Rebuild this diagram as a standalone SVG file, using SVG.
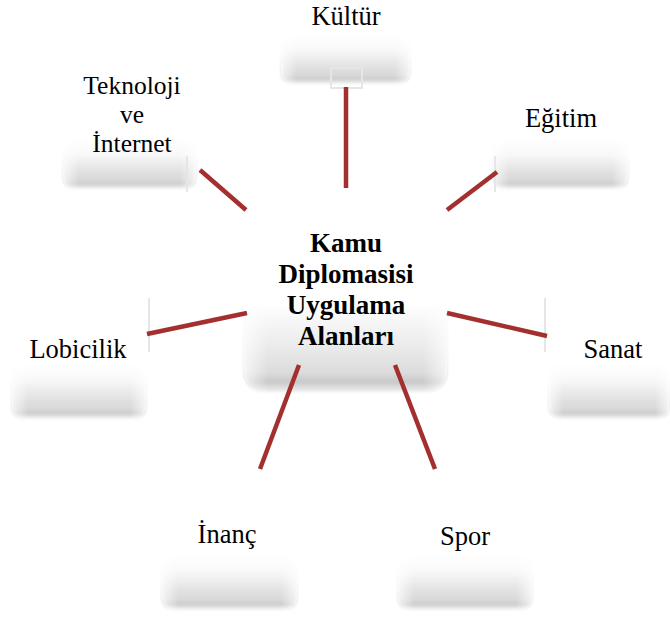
<svg xmlns="http://www.w3.org/2000/svg" width="670" height="617" viewBox="0 0 670 617">
<defs>
<linearGradient id="g" x1="0" y1="0" x2="0" y2="1">
<stop offset="0" stop-color="#ffffff"/>
<stop offset="0.3" stop-color="#f8f8f8"/>
<stop offset="0.6" stop-color="#e4e4e4"/>
<stop offset="0.82" stop-color="#d8d8d8"/>
<stop offset="0.9" stop-color="#cbcbcb"/>
<stop offset="0.96" stop-color="#e9e9e9"/>
<stop offset="1" stop-color="#f6f6f6"/>
</linearGradient>
<linearGradient id="gc" x1="0" y1="0" x2="0" y2="1">
<stop offset="0" stop-color="#ffffff"/>
<stop offset="0.55" stop-color="#ffffff"/>
<stop offset="0.75" stop-color="#ececec"/>
<stop offset="0.9" stop-color="#dcdcdc"/>
<stop offset="0.95" stop-color="#c8c8c8"/>
<stop offset="1" stop-color="#f0f0f0"/>
</linearGradient>
<linearGradient id="h" x1="0" y1="0" x2="1" y2="0">
<stop offset="0" stop-color="#ffffff" stop-opacity="0.7"/>
<stop offset="0.12" stop-color="#ffffff" stop-opacity="0"/>
<stop offset="0.88" stop-color="#ffffff" stop-opacity="0"/>
<stop offset="1" stop-color="#ffffff" stop-opacity="0.7"/>
</linearGradient>
<filter id="blur" x="-10%" y="-20%" width="120%" height="140%">
<feGaussianBlur stdDeviation="1.6"/>
</filter>
</defs>
<style>
.box{fill:url(#g);filter:url(#blur);}
.cbox{fill:url(#gc);filter:url(#blur);}
.hl{fill:url(#h);}
text{font-family:'Liberation Serif','Times New Roman',serif;fill:#000;text-anchor:middle;}
.lbl{font-size:26.5px;}
.sm{font-size:25.5px;}
.clbl{font-size:27px;font-weight:bold;}
.con line{stroke:#a3302f;stroke-width:4.5;stroke-linecap:butt;}
.art{fill:none;stroke:#e6e6e6;stroke-width:2;}
</style>
<rect width="670" height="617" fill="#ffffff"/>

<g id="node-center">
<rect class="cbox" x="244" y="196" width="203" height="196" rx="20"/>
<rect class="hl" x="244" y="196" width="203" height="196" rx="20"/>
<text class="clbl" x="346" y="252">Kamu</text>
<text class="clbl" x="346" y="283">Diplomasisi</text>
<text class="clbl" x="346" y="314">Uygulama</text>
<text class="clbl" x="346" y="345">Alanları</text>
</g>

<g id="node-kultur">
<rect class="box" x="281" y="36" width="129" height="48" rx="12"/>
<rect class="hl" x="281" y="36" width="129" height="48" rx="12"/>
<text class="lbl" x="346" y="25">Kültür</text>
</g>

<g id="node-teknoloji">
<rect class="box" x="63" y="140" width="133" height="49" rx="12"/>
<rect class="hl" x="63" y="140" width="133" height="49" rx="12"/>
<text class="sm" x="132" y="94">Teknoloji</text>
<text class="sm" x="132" y="123">ve</text>
<text class="sm" x="132" y="152">İnternet</text>
</g>

<g id="node-egitim">
<rect class="box" x="493" y="140" width="135" height="49" rx="12"/>
<rect class="hl" x="493" y="140" width="135" height="49" rx="12"/>
<text class="lbl" x="561" y="127">Eğitim</text>
</g>

<g id="node-lobicilik">
<rect class="box" x="12" y="364" width="134" height="55" rx="12"/>
<rect class="hl" x="12" y="364" width="134" height="55" rx="12"/>
<text class="lbl" x="78" y="358">Lobicilik</text>
</g>

<g id="node-sanat">
<rect class="box" x="549" y="364" width="120" height="55" rx="12"/>
<rect class="hl" x="549" y="364" width="120" height="55" rx="12"/>
<text class="lbl" x="613" y="358">Sanat</text>
</g>

<g id="node-inanc">
<rect class="box" x="162" y="556" width="135" height="54" rx="12"/>
<rect class="hl" x="162" y="556" width="135" height="54" rx="12"/>
<text class="lbl" x="227" y="543">İnanç</text>
</g>

<g id="node-spor">
<rect class="box" x="398" y="556" width="134" height="54" rx="12"/>
<rect class="hl" x="398" y="556" width="134" height="54" rx="12"/>
<text class="lbl" x="465" y="545">Spor</text>
</g>

<g id="artifacts">
<rect class="art" x="331" y="68" width="31" height="20" fill="#f4f4f4"/>
<line class="art" x1="187" y1="156" x2="187" y2="192"/>
<line class="art" x1="495" y1="156" x2="495" y2="192"/>
<line class="art" x1="149" y1="298" x2="149" y2="352"/>
<line class="art" x1="545" y1="298" x2="545" y2="352"/>
</g>

<g id="connectors" class="con">
<line x1="346" y1="87" x2="346" y2="188"/>
<line x1="200" y1="170" x2="246" y2="210"/>
<line x1="497" y1="172" x2="447" y2="210"/>
<line x1="147" y1="334" x2="247" y2="313"/>
<line x1="447" y1="313" x2="547" y2="336"/>
<line x1="299" y1="365" x2="260" y2="469"/>
<line x1="395" y1="365" x2="435" y2="469"/>
</g>
</svg>
